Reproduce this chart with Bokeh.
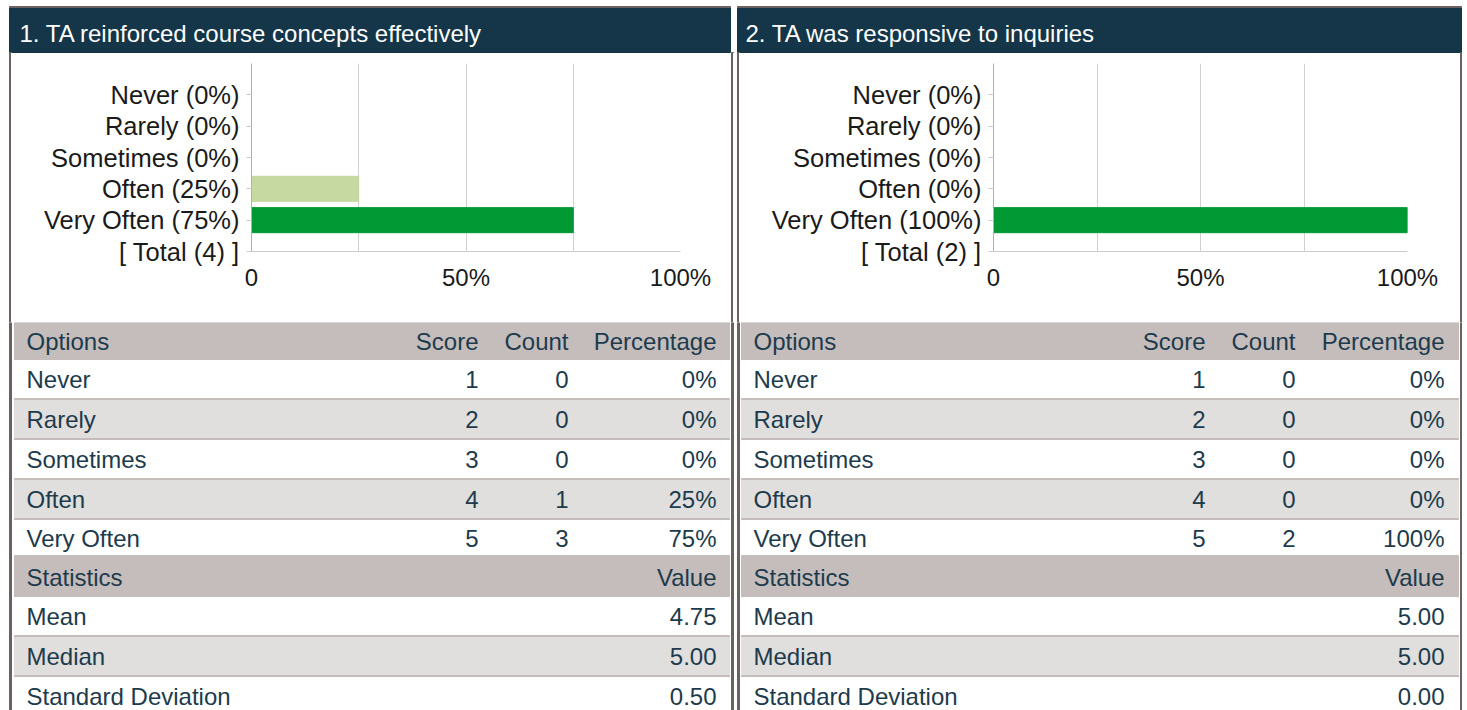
from bokeh.plotting import figure
from bokeh.layouts import column, row
from bokeh.models import Range1d, FixedTicker, ColumnDataSource, Spacer
from bokeh.core.properties import value
from bokeh.embed import file_html
from bokeh.resources import INLINE

# ---------------- data ----------------
titles = ["1. TA reinforced course concepts effectively",
          "2. TA was responsive to inquiries"]
options = ["Never", "Rarely", "Sometimes", "Often", "Very Often"]
scores = [1, 2, 3, 4, 5]
counts_q1 = [0, 0, 0, 1, 3]
pcts_q1 = [0, 0, 0, 25, 75]
counts_q2 = [0, 0, 0, 0, 2]
pcts_q2 = [0, 0, 0, 0, 100]
stat_names = ["Mean", "Median", "Standard Deviation"]
stats_q1 = [4.75, 5.00, 0.50]
stats_q2 = [5.00, 5.00, 0.00]
x_ticks = [0, 50, 100]
x_tick_labels = ["0", "50%", "100%"]
grid_ticks = [0, 25, 50, 75, 100]
bar_colors = ["#d7301f", "#fc8d59", "#fee08b", "#c5d9a0", "#009933"]

# ---------------- style ----------------
FONT = "Liberation Sans"
NAVY = "#143648"
BORDER = "#6b6161"
HEAD_BG = "#c4bdbc"
ALT_BG = "#e0dfde"
SEP = "#c4bdbc"
TEXT = "#1d3b4c"
W = 1462


def blank(p):
    p.axis.visible = False
    p.grid.visible = False
    p.outline_line_color = None
    p.background_fill_color = "white"
    p.border_fill_color = "white"


# panel borders (left edges, 2px wide)
bl = [9, 731, 737, 1460]

# ---------------- header ----------------
HH = 53
hp = figure(width=W, height=HH, x_range=Range1d(0, W), y_range=Range1d(HH, 0),
            output_backend="svg", toolbar_location=None, min_border=0)
blank(hp)
pl = [9, 737]
pr = [730, 1461]
hp.quad(left=pl, right=pr, top=[6, 6], bottom=[8, 8], color=BORDER)
hp.quad(left=pl, right=pr, top=[8, 8], bottom=[52, 52], color=NAVY)
hp.quad(left=bl, right=[b + 2 for b in bl], top=[52] * 4, bottom=[53] * 4, color=BORDER)
hp.text(x=[19, 745], y=[33, 33], text=titles, text_color="white",
        text_font=value(FONT), text_font_size="24px",
        text_baseline="middle", text_align="left")


# ---------------- charts ----------------
CH = 269


def make_chart(counts, pcts, width, left, right):
    total = sum(counts)
    labels = [f"{o} ({p}%)" for o, p in zip(options, pcts)] + [f"[ Total ({total}) ]"]
    pos = list(range(1, len(labels) + 1))
    p = figure(width=width, height=CH, x_range=Range1d(0, 100),
               y_range=Range1d(len(labels), 0),
               output_backend="svg", toolbar_location=None,
               min_border_left=left, min_border_right=right,
               min_border_top=10, min_border_bottom=CH - 10 - 188)
    p.outline_line_color = None
    p.background_fill_color = "white"
    p.border_fill_color = "white"
    src = ColumnDataSource(dict(y=pos[:len(options)], right=pcts, color=bar_colors))
    p.hbar(y="y", left=0, right="right", height=0.8, color="color", source=src)

    p.ygrid.visible = False
    p.xgrid.ticker = FixedTicker(ticks=grid_ticks)
    p.xgrid.grid_line_color = "#d0d0d0"

    ya = p.yaxis[0]
    ya.ticker = FixedTicker(ticks=pos)
    ya.major_label_overrides = {k: v for k, v in zip(pos, labels)}
    ya.major_label_text_font = FONT
    ya.major_label_text_font_size = "25.5px"
    ya.major_label_text_color = "#1a1a1a"
    ya.axis_line_color = "#b0b0b0"
    ya.major_tick_out = 5
    ya.major_tick_in = 0
    ya.major_tick_line_color = "#cccccc"
    ya.minor_tick_line_color = None
    ya.major_label_standoff = 7

    xa = p.xaxis[0]
    xa.ticker = FixedTicker(ticks=x_ticks)
    xa.major_label_overrides = {k: v for k, v in zip(x_ticks, x_tick_labels)}
    xa.major_label_text_font = FONT
    xa.major_label_text_font_size = "24px"
    xa.major_label_text_color = "#1a1a1a"
    xa.axis_line_color = "#cccccc"
    xa.major_tick_out = 0
    xa.major_tick_in = 0
    xa.minor_tick_line_color = None
    xa.major_label_standoff = 12
    return p


c1 = make_chart(counts_q1, pcts_q1, 720, 240, 51)
c2 = make_chart(counts_q2, pcts_q2, 721, 254, 53)


def bar(wd, col):
    return Spacer(width=wd, height=CH, styles={"background-color": col})


chart_row = row(bar(9, "white"), bar(2, BORDER), c1, bar(2, BORDER), bar(4, "white"),
                bar(2, BORDER), c2, bar(2, BORDER))

# ---------------- tables ----------------
TH = 388
tp = figure(width=W, height=TH, x_range=Range1d(0, W), y_range=Range1d(TH, 0),
            output_backend="svg", toolbar_location=None, min_border=0)
blank(tp)
tp.quad(left=bl, right=[b + 2 for b in bl], top=[0] * 4, bottom=[TH] * 4, color=BORDER)

row_tops = [0, 38, 78, 118, 158, 198, 235, 275, 315, 355]
row_bots = [38, 78, 118, 158, 198, 235, 275, 315, 355, 395]
row_kind = ["h", "w", "g", "w", "g", "w", "h", "w", "g", "w"]
panel_x = [(14, 729), (741, 1458)]
xs = [dict(l=26, s=478, c=568, p=716), dict(l=753, s=1205, c=1295, p=1444)]

q = dict(l=[], r=[], t=[], b=[], c=[])
ty = []
for k, (t, b) in enumerate(zip(row_tops, row_bots)):
    kind = row_kind[k]
    for (l, r) in panel_x:
        if kind == "h":
            q["l"].append(l); q["r"].append(r); q["t"].append(t); q["b"].append(b); q["c"].append(HEAD_BG)
        else:
            q["l"].append(l); q["r"].append(r); q["t"].append(t); q["b"].append(b - 2)
            q["c"].append("white" if kind == "w" else ALT_BG)
            q["l"].append(l); q["r"].append(r); q["t"].append(b - 2); q["b"].append(b); q["c"].append(SEP)
    ty.append((t + b) / 2 if kind == "h" else (t + b - 2) / 2)
tp.quad(left="l", right="r", top="t", bottom="b", color="c", source=ColumnDataSource(q))

left_txt = dict(x=[], y=[], text=[])
right_txt = dict(x=[], y=[], text=[])
panels = [(counts_q1, pcts_q1, stats_q1), (counts_q2, pcts_q2, stats_q2)]
for (counts, pcts, stats), X in zip(panels, xs):
    left_txt["x"].append(X["l"]); left_txt["y"].append(ty[0]); left_txt["text"].append("Options")
    for lab, key in [("Score", "s"), ("Count", "c"), ("Percentage", "p")]:
        right_txt["x"].append(X[key]); right_txt["y"].append(ty[0]); right_txt["text"].append(lab)
    for i, o in enumerate(options):
        y = ty[1 + i]
        left_txt["x"].append(X["l"]); left_txt["y"].append(y); left_txt["text"].append(o)
        for txt, key in [(str(scores[i]), "s"), (str(counts[i]), "c"), (f"{pcts[i]}%", "p")]:
            right_txt["x"].append(X[key]); right_txt["y"].append(y); right_txt["text"].append(txt)
    left_txt["x"].append(X["l"]); left_txt["y"].append(ty[6]); left_txt["text"].append("Statistics")
    right_txt["x"].append(X["p"]); right_txt["y"].append(ty[6]); right_txt["text"].append("Value")
    for j, (nm, v) in enumerate(zip(stat_names, stats)):
        y = ty[7 + j]
        left_txt["x"].append(X["l"]); left_txt["y"].append(y); left_txt["text"].append(nm)
        right_txt["x"].append(X["p"]); right_txt["y"].append(y); right_txt["text"].append(f"{v:.2f}")

tp.text(x="x", y="y", text="text", source=ColumnDataSource(left_txt), text_color=TEXT,
        text_font=value(FONT), text_font_size="24px", text_baseline="middle", text_align="left")
tp.text(x="x", y="y", text="text", source=ColumnDataSource(right_txt), text_color=TEXT,
        text_font=value(FONT), text_font_size="24px", text_baseline="middle", text_align="right")

layout = column(hp, chart_row, tp)
open("out.html", "w").write(file_html(layout, INLINE))
